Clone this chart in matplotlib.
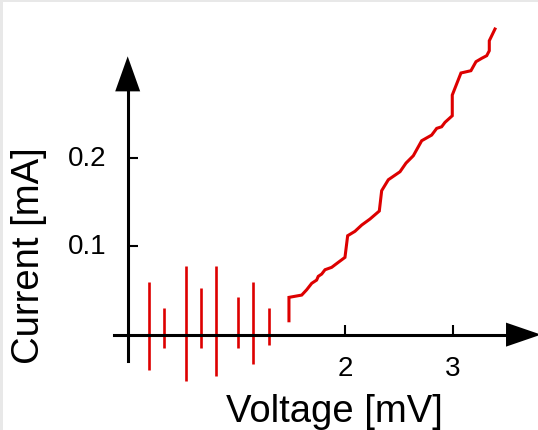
import matplotlib
matplotlib.use("Agg")
import matplotlib.pyplot as plt
from matplotlib.patches import Rectangle
import matplotlib.transforms as mtrans

plt.rcParams['font.family'] = ['Liberation Sans', 'DejaVu Sans']

# ---- data ----
spike_x = [0.173, 0.313, 0.518, 0.655, 0.792, 0.997, 1.137, 1.286]
spike_top = [0.0592, 0.0298, 0.0774, 0.0528, 0.0774, 0.0426, 0.0592, 0.0298]
spike_bottom = [-0.0397, -0.0148, -0.0529, -0.0148, -0.0465, -0.0148, -0.0330, -0.0114]

curve_v = [1.475, 1.475, 1.594, 1.640, 1.687, 1.733, 1.748, 1.780, 1.811, 1.873,
           1.935, 1.997, 2.022, 2.090, 2.153, 2.230, 2.317, 2.339, 2.401, 2.510,
           2.566, 2.634, 2.712, 2.805, 2.852, 2.898, 2.929, 2.997, 2.997, 3.078,
           3.171, 3.218, 3.271, 3.318, 3.342, 3.342, 3.395]
curve_i = [0.0157, 0.0422, 0.0448, 0.0508, 0.0581, 0.0618, 0.0660, 0.0686, 0.0735, 0.0762,
           0.0819, 0.0875, 0.1120, 0.1170, 0.1241, 0.1309, 0.1400, 0.1630, 0.1754, 0.1845,
           0.1943, 0.2026, 0.2196, 0.2260, 0.2336, 0.2354, 0.2404, 0.2479, 0.2713, 0.2963,
           0.2989, 0.3091, 0.3129, 0.3159, 0.3215, 0.3328, 0.3461]

x_ticks = [2, 3]
x_tick_labels = ['2', '3']
y_ticks = [0.1, 0.2]
y_tick_labels = ['0.1', '0.2']
x_label = 'Voltage [mV]'
y_label = 'Current [mA]'

RED = '#dd0000'

fig = plt.figure(figsize=(5.38, 4.31), dpi=100)
fig.patch.set_facecolor('white')
ax = fig.add_axes([0, 0, 1, 1])
ax.set_facecolor('none')

ax.set_xlim(-1.218, 3.796)
ax.set_ylim(-0.1080, 0.3801)

# axes as spines through the origin
yaxis_x = -0.028
ax.spines['top'].set_visible(False)
ax.spines['right'].set_visible(False)
ax.spines['left'].set_position(('data', yaxis_x))
ax.spines['bottom'].set_position(('data', 0.0))
ax.spines['left'].set_bounds(-0.0296, 0.2755)
ax.spines['bottom'].set_bounds(-0.153, 3.498)
for s in ('left', 'bottom'):
    ax.spines[s].set_linewidth(2.2)
    ax.spines[s].set_color('black')

# arrow heads
ax.fill([yaxis_x - 0.1165, yaxis_x + 0.1165, yaxis_x], [0.2755, 0.2755, 0.3152],
        color='black', lw=0, clip_on=False)
ax.fill([3.498, 3.498, 3.824], [-0.0136, 0.0136, 0.0], color='black', lw=0, clip_on=False)

# ticks (inward), labels drawn as text
ax.set_xticks(x_ticks)
ax.set_yticks(y_ticks)
ax.tick_params(direction='in', length=7.2, width=1.5, labelbottom=False, labelleft=False)

off_x = mtrans.offset_copy(ax.transData, fig=fig, x=0, y=-20, units='dots')
for v, t in zip(x_ticks, x_tick_labels):
    ax.text(v, 0, t, transform=off_x, fontsize=20, ha='center', va='top')
off_y = mtrans.offset_copy(ax.transData, fig=fig, x=-21, y=0, units='dots')
for v, t in zip(y_ticks, y_tick_labels):
    ax.text(yaxis_x, v, t, transform=off_y, fontsize=20, ha='right', va='center')

# data
ax.vlines(spike_x, spike_bottom, spike_top, colors=RED, linewidth=1.9)
ax.plot(curve_v, curve_i, color=RED, linewidth=2.2, solid_joinstyle='miter')

# axis labels
fig.text(334 / 538, (431 - 421.7) / 431, x_label, fontsize=27.5, ha='center', va='baseline')
fig.text(39.5 / 538, 1 - 255.6 / 431, y_label, fontsize=27.5, rotation=90,
         rotation_mode='anchor', ha='center', va='baseline')

# light grey frame strips at top and left
fig.patches.append(Rectangle((0, 1 - 3 / 431), 1, 3 / 431, transform=fig.transFigure,
                             facecolor='#e8e8e8', edgecolor='none', zorder=10))
fig.patches.append(Rectangle((0, 0), 3 / 538, 1, transform=fig.transFigure,
                             facecolor='#e8e8e8', edgecolor='none', zorder=10))

fig.savefig('out.png', dpi=100)
